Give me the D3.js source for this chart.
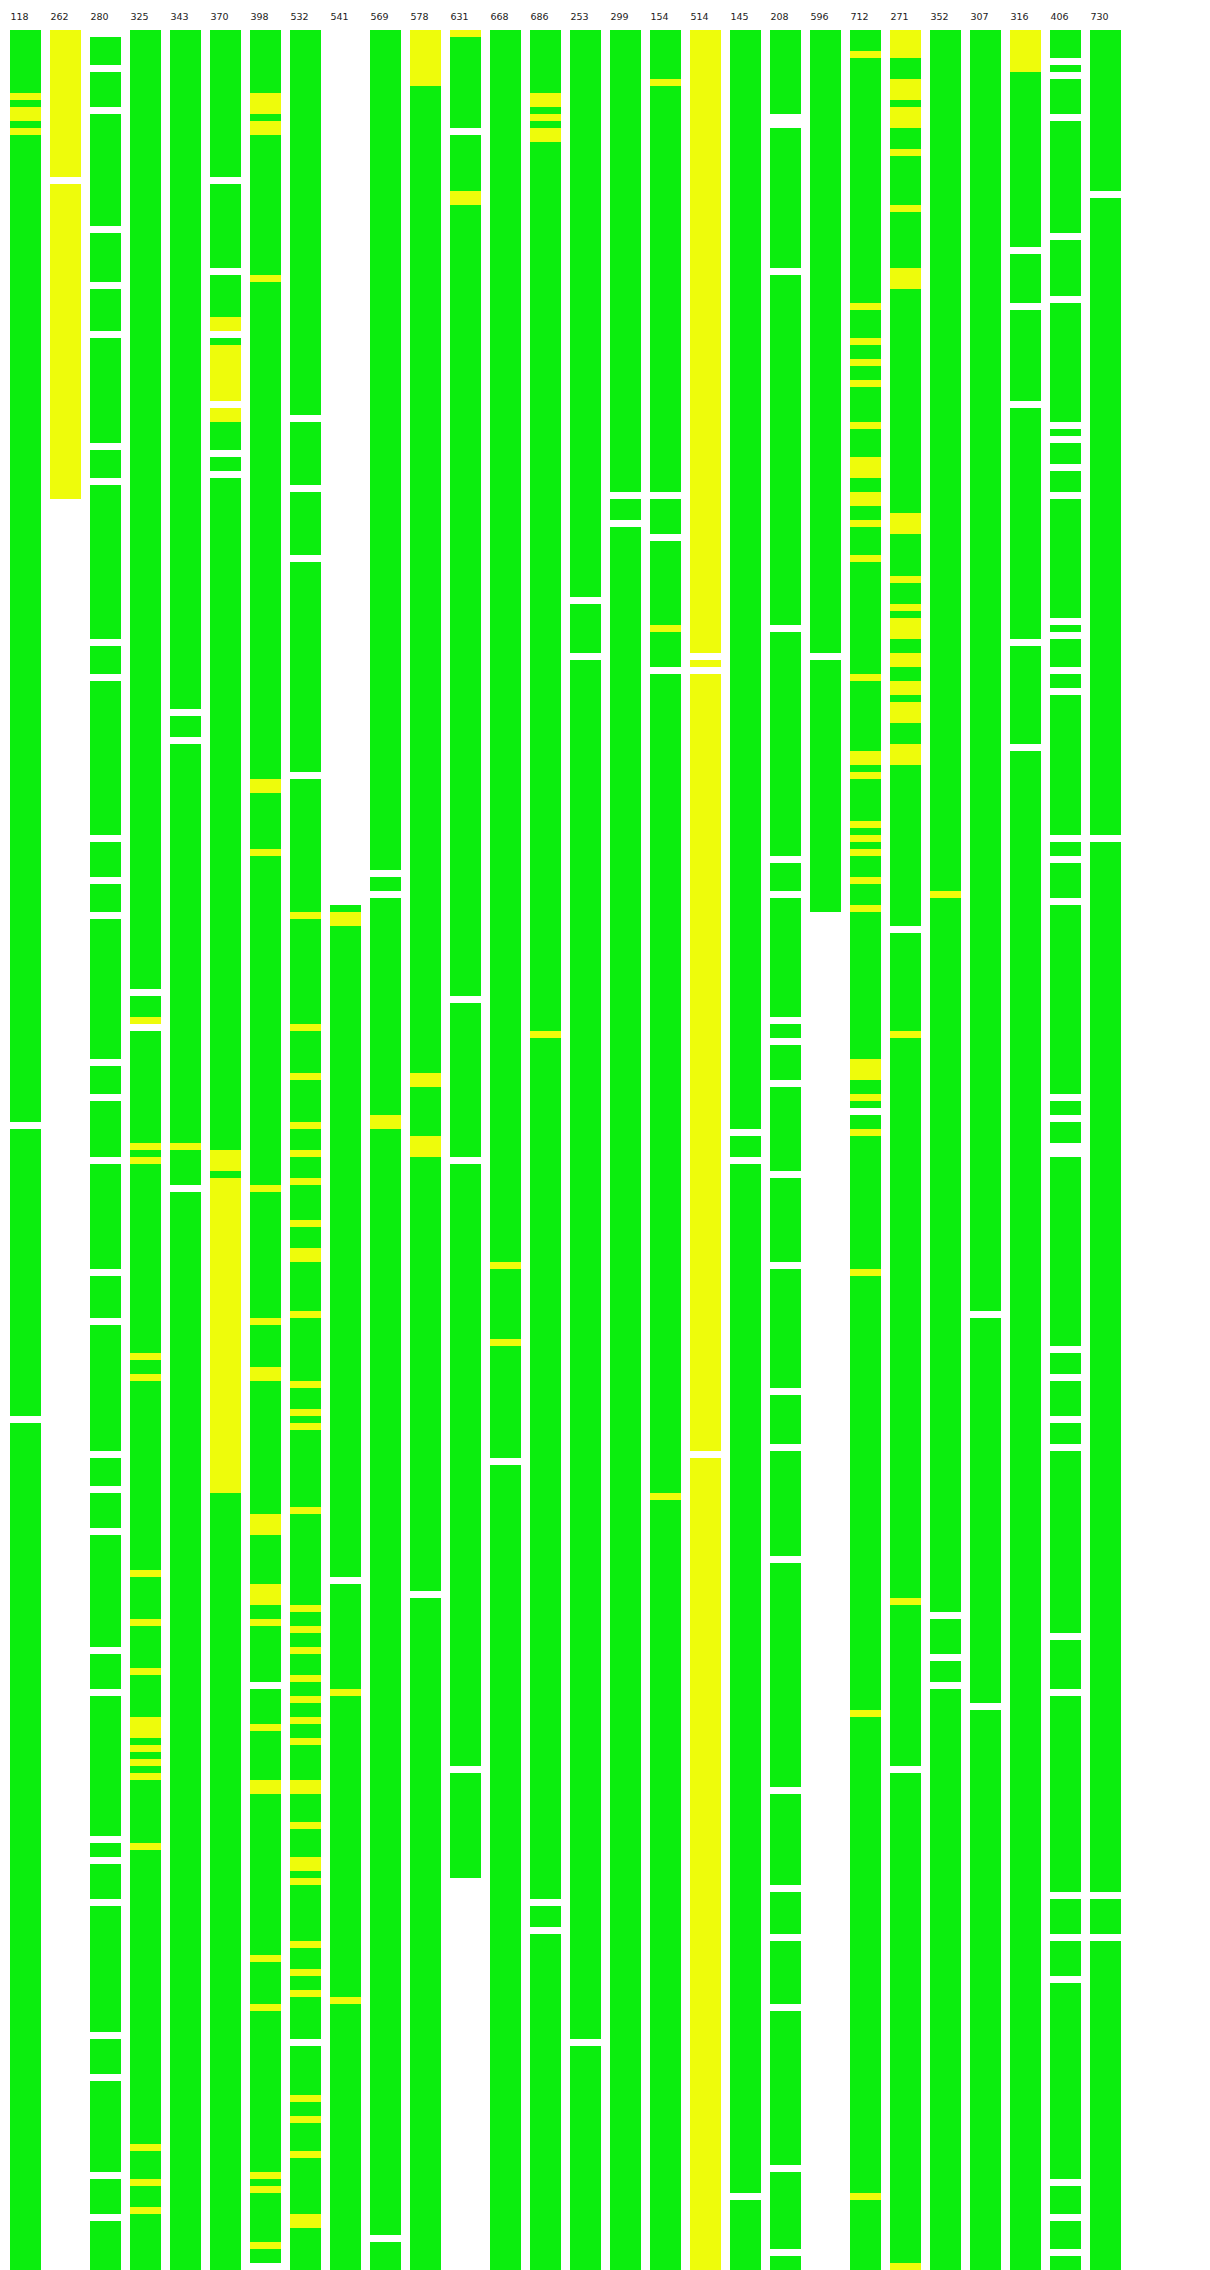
<!DOCTYPE html>
<html>
<head>
<meta charset="utf-8">
<script src="https://cdn.jsdelivr.net/npm/d3@7"></script>
<style>
  body { margin: 0; background: #fff; }
  .label { font-family: "DejaVu Sans", sans-serif; font-size: 9.5px; fill: #222; }
</style>
</head>
<body>
<div id="chart"></div>
<script>

//column labels, left to right
var labels = ["118", "262", "280", "325", "343", "370", "398", "532", "541", "569",
              "578", "631", "668", "686", "253", "299", "154", "514", "145", "208",
              "596", "712", "271", "352", "307", "316", "406", "730"];

//runs of cells down each column: G = green, Y = yellow, W = empty
var runs = [
    "G9 Y1 G1 Y2 G1 Y1 G141 W1 G41 W1 G121",
    "Y21 W1 Y45",
    "W1 G4 W1 G5 W1 G16 W1 G7 W1 G6 W1 G15 W1 G4 W1 G22 W1 G4 W1 G22 W1 G5 W1 G4 W1 G20 W1 G4 W1 G8 W1 G15 W1 G6 W1 G18 W1 G4 W1 G5 W1 G16 W1 G5 W1 G20 W1 G2 W1 G5 W1 G18 W1 G5 W1 G13 W1 G5 W1 G7",
    "G137 W1 G3 Y1 W1 G16 Y1 G1 Y1 G27 Y1 G2 Y1 G27 Y1 G6 Y1 G6 Y1 G6 Y3 G1 Y1 G1 Y1 G1 Y1 G9 Y1 G42 Y1 G4 Y1 G3 Y1 G8",
    "G97 W1 G3 W1 G57 Y1 G5 W1 G154",
    "G21 W1 G12 W1 G6 Y2 W1 G1 Y8 W1 Y2 G4 W1 G2 W1 G96 Y3 G1 Y45 G111",
    "G9 Y3 G1 Y2 G20 Y1 G71 Y2 G8 Y1 G47 Y1 G18 Y1 G6 Y2 G19 Y3 G7 Y3 G2 Y1 G8 W1 G5 Y1 G7 Y2 G23 Y1 G6 Y1 G23 Y1 G1 Y1 G7 Y1 G2",
    "G55 W1 G9 W1 G9 W1 G30 W1 G19 Y1 G15 Y1 G6 Y1 G6 Y1 G3 Y1 G3 Y1 G5 Y1 G3 Y2 G7 Y1 G9 Y1 G3 Y1 G1 Y1 G11 Y1 G13 Y1 G2 Y1 G2 Y1 G3 Y1 G2 Y1 G2 Y1 G2 Y1 G5 Y2 G4 Y1 G4 Y2 G1 Y1 G8 Y1 G3 Y1 G2 Y1 G6 W1 G7 Y1 G2 Y1 G4 Y1 G8 Y2 G6",
    "W125 G1 Y2 G93 W1 G15 Y1 G43 Y1 G38",
    "G120 W1 G2 W1 G31 Y2 G158 W1 G4",
    "Y8 G141 Y2 G7 Y3 G62 W1 G96",
    "Y1 G13 W1 G8 Y2 G113 W1 G22 W1 G86 W1 G15",
    "G176 Y1 G10 Y1 G16 W1 G115",
    "G9 Y2 G1 Y1 G1 Y2 G127 Y1 G123 W1 G3 W1 G48",
    "G81 W1 G7 W1 G197 W1 G32",
    "G66 W1 G3 W1 G249",
    "G7 Y1 G58 W1 G5 W1 G12 Y1 G5 W1 G117 Y1 G110",
    "Y89 W1 Y1 W1 Y111 W1 Y116",
    "G157 W1 G3 W1 G147 W1 G10",
    "G12 W2 G20 W1 G50 W1 G32 W1 G4 W1 G17 W1 G2 W1 G5 W1 G12 W1 G12 W1 G17 W1 G7 W1 G15 W1 G32 W1 G13 W1 G6 W1 G9 W1 G22 W1 G11 W1 G2",
    "G89 W1 G36",
    "G3 Y1 G35 Y1 G4 Y1 G2 Y1 G2 Y1 G5 Y1 G4 Y3 G2 Y2 G2 Y1 G4 Y1 G16 Y1 G10 Y2 G1 Y1 G6 Y1 G1 Y1 G1 Y1 G3 Y1 G3 Y1 G21 Y3 G2 Y1 G1 W1 G2 Y1 G19 Y1 G62 Y1 G68 Y1 G10",
    "Y4 G3 Y3 G1 Y3 G3 Y1 G7 Y1 G8 Y3 G32 Y3 G6 Y1 G3 Y1 G1 Y3 G2 Y2 G2 Y2 G1 Y3 G3 Y3 G23 W1 G14 Y1 G80 Y1 G23 W1 G70 Y1",
    "G123 Y1 G102 W1 G5 W1 G3 W1 G83",
    "G183 W1 G55 W1 G80",
    "Y6 G25 W1 G7 W1 G13 W1 G33 W1 G14 W1 G217",
    "G4 W1 G1 W1 G5 W1 G16 W1 G8 W1 G17 W1 G1 W1 G3 W1 G3 W1 G17 W1 G1 W1 G4 W1 G2 W1 G20 W1 G2 W1 G5 W1 G27 W1 G2 W1 G3 W2 G27 W1 G3 W1 G5 W1 G3 W1 G26 W1 G7 W1 G28 W1 G5 W1 G5 W1 G28 W1 G4 W1 G4 W1 G2",
    "G23 W1 G91 W1 G150 W1 G5 W1 G47"
];

//total cells a column can hold
var cellCount = 320;

var fills = { G: "#0bee0e", Y: "#eefc0b" };

function drawChart(){

    var width = 1210,
        height = 2270;

    var svg = d3.select("#chart")
        .append("svg")
        .attr("width", width)
        .attr("height", height);

    var x = d3.scaleBand()
        .domain(labels)
        .range([10, 1121])
        .paddingInner(0.225)
        .paddingOuter(0);

    var y = d3.scaleLinear()
        .domain([0, cellCount])
        .range([30, height]);

    //turn the run strings into segments with a start cell
    var segments = [];
    runs.forEach(function(str, i){
        var start = 0;
        str.split(" ").forEach(function(tok){
            var code = tok[0],
                n = +tok.slice(1);
            if (code !== "W") {
                segments.push({ label: labels[i], code: code, start: start, n: n });
            }
            start += n;
        });
    });

    svg.selectAll(".seg")
        .data(segments)
        .enter()
        .append("rect")
        .attr("class", "seg")
        .attr("x", function(d){ return x(d.label); })
        .attr("width", x.bandwidth())
        .attr("y", function(d){ return y(d.start); })
        .attr("height", function(d){ return y(d.start + d.n) - y(d.start); })
        .attr("fill", function(d){ return fills[d.code]; })
        .attr("shape-rendering", "crispEdges");

    svg.selectAll(".label")
        .data(labels)
        .enter()
        .append("text")
        .attr("class", "label")
        .attr("x", function(d){ return x(d) + 0.5; })
        .attr("y", 20)
        .text(function(d){ return d; });
}

window.onload = drawChart;
</script>
</body>
</html>
